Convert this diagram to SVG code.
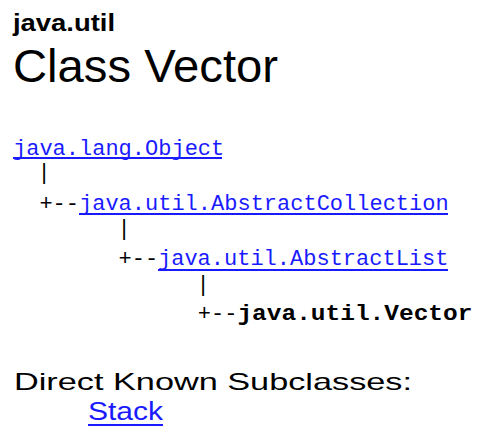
<svg xmlns="http://www.w3.org/2000/svg" width="479" height="430" viewBox="0 0 479 430">
<style>
.sans{font-family:"Liberation Sans",Arial,sans-serif;fill:#000}
.mono{font-family:"Liberation Mono","DejaVu Sans Mono",monospace;font-size:22px;fill:#000}
.link{fill:#1a1aff}
.ul{stroke:#1a1aff;stroke-width:2}
</style>
<rect width="479" height="430" fill="#fff"/>
<g id="header">
<text class="sans" x="13" y="31" font-size="24" font-weight="bold" textLength="102" lengthAdjust="spacingAndGlyphs">java.util</text>
<text class="sans" x="13" y="82" font-size="47" textLength="265" lengthAdjust="spacingAndGlyphs">Class Vector</text>
</g>
<g id="connectors">
<text class="mono" x="37.4" y="179">|</text>
<text class="mono" x="39.4" y="210">+--</text>
<text class="mono" x="117.4" y="235">|</text>
<text class="mono" x="118.6" y="265">+--</text>
<text class="mono" x="196.4" y="291">|</text>
<text class="mono" x="197.8" y="320">+--</text>
</g>
<g id="node-object">
<text class="mono link" x="13" y="155">java.lang.Object</text>
<line class="ul" x1="13" y1="158" x2="222" y2="158"/>
</g>
<g id="node-abstractcollection">
<text class="mono link" x="79" y="210">java.util.AbstractCollection</text>
<line class="ul" x1="79" y1="214" x2="448" y2="214"/>
</g>
<g id="node-abstractlist">
<text class="mono link" x="158" y="265">java.util.AbstractList</text>
<line class="ul" x1="158" y1="270" x2="448" y2="270"/>
</g>
<g id="node-vector">
<text class="mono" x="237.4" y="320" font-weight="bold" textLength="235" lengthAdjust="spacingAndGlyphs">java.util.Vector</text>
</g>
<g id="subclasses">
<text class="sans" x="14" y="390" font-size="24" textLength="398" lengthAdjust="spacingAndGlyphs">Direct Known Subclasses:</text>
<text class="sans link" x="88" y="420" font-size="26" textLength="75" lengthAdjust="spacingAndGlyphs">Stack</text>
<line class="ul" x1="88" y1="425" x2="163" y2="425" stroke-width="1"/>
</g>
</svg>
